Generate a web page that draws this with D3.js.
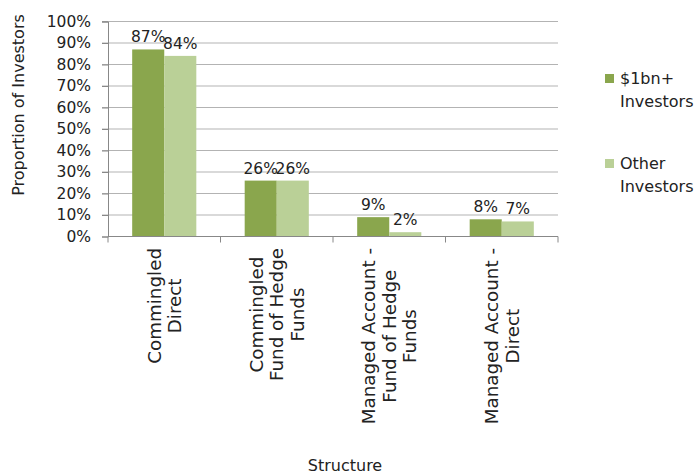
<html lang="en">
<head>
<meta charset="UTF-8">
<title>Structure</title>
<script src="https://unpkg.com/d3@7/dist/d3.min.js"></script>
<style>
  body { margin:0; padding:0; background:#fff; }
  text { font-family: "DejaVu Sans", sans-serif; font-size:16px; fill:#222; }
</style>
</head>
<body>
<svg width="695" height="475"></svg>
<script>
var categories = [
  ['Commingled', 'Direct'],
  ['Commingled', 'Fund of Hedge', 'Funds'],
  ['Managed Account -', 'Fund of Hedge', 'Funds'],
  ['Managed Account -', 'Direct']
]
var seriesNames = ['$1bn+ Investors', 'Other Investors']
var bigInvestors = [87, 26, 9, 8]
var otherInvestors = [84, 26, 2, 7]
var yTicks = [0, 10, 20, 30, 40, 50, 60, 70, 80, 90, 100]
var colors = ['#8aa64d', '#bad097']

var svg = d3.select('svg')
var plotL = 108, plotR = 558, plotT = 21.5, plotB = 236.5

var x0 = d3.scaleBand().domain(d3.range(categories.length)).range([plotL, plotR])
  .paddingInner(0.43).paddingOuter(0.215)
var x1 = d3.scaleBand().domain([0, 1]).range([0, x0.bandwidth()])
var y = d3.scaleLinear().domain([0, 100]).range([plotB, plotT])

// gridlines
svg.append('g').selectAll('line').data(yTicks.slice(1)).enter().append('line')
  .attr('x1', plotL - 6).attr('x2', plotR)
  .attr('y1', d => y(d)).attr('y2', d => y(d))
  .attr('stroke', '#b3b3b3').attr('stroke-width', 1.2)

// y axis
var yAxis = svg.append('g').attr('transform', 'translate(' + plotL + ',0)')
  .call(d3.axisLeft(y).tickValues(yTicks).tickSize(6).tickPadding(11).tickFormat(d => d + '%'))
yAxis.select('.domain').attr('stroke', '#888')
yAxis.selectAll('.tick line').attr('stroke', '#888')
yAxis.selectAll('text').style('font-size', '15.5px').style('font-family', 'DejaVu Sans').attr('fill', '#222')

// bars
var rows = categories.map((c, i) => [bigInvestors[i], otherInvestors[i]])
var groups = svg.append('g').selectAll('g').data(rows).enter().append('g')
  .attr('transform', (d, i) => 'translate(' + x0(i) + ',0)')
groups.selectAll('rect').data(d => d).enter().append('rect')
  .attr('x', (d, j) => x1(j)).attr('width', x1.bandwidth())
  .attr('y', d => y(d)).attr('height', d => plotB - y(d))
  .attr('fill', (d, j) => colors[j])
groups.selectAll('text.lbl').data(d => d).enter().append('text')
  .attr('class', 'lbl')
  .attr('x', (d, j) => x1(j) + x1.bandwidth() / 2)
  .attr('y', d => y(d) - 7)
  .attr('text-anchor', 'middle')
  .style('font-size', '15.5px')
  .text(d => d + '%')

// x axis
var xAxis = svg.append('g').attr('transform', 'translate(0,' + plotB + ')')
xAxis.append('line').attr('x1', plotL).attr('x2', plotR).attr('stroke', '#888')
xAxis.selectAll('line.tk').data(d3.range(categories.length + 1)).enter().append('line')
  .attr('class', 'tk')
  .attr('x1', i => plotL + i * x0.step()).attr('x2', i => plotL + i * x0.step())
  .attr('y1', 0).attr('y2', 6).attr('stroke', '#888')

// category labels, rotated, lines centred
categories.forEach((lines, i) => {
  var cx = x0(i) + x0.bandwidth() / 2
  var g = svg.append('g')
  var ts = lines.map(ln => g.append('text')
    .attr('text-anchor', 'middle').style('font-size', '18.3px').text(ln))
  var maxLen = d3.max(ts, t => t.node().getComputedTextLength())
  var n = lines.length
  ts.forEach((t, k) => {
    var px = cx + (k - (n - 1) / 2) * 20.5 + 6.5
    var py = 248 + maxLen / 2
    t.attr('transform', 'translate(' + px + ',' + py + ') rotate(-90)')
  })
})

// axis titles
svg.append('text').attr('text-anchor', 'middle')
  .attr('transform', 'translate(24,105) rotate(-90)')
  .style('font-size', '16px').text('Proportion of Investors')
svg.append('text').attr('text-anchor', 'middle')
  .attr('x', 345).attr('y', 471).style('font-size', '16px').text('Structure')

// legend
var legend = svg.append('g').selectAll('g').data(seriesNames).enter().append('g')
  .attr('transform', (d, i) => 'translate(605,' + (74 + i * 85) + ')')
legend.append('rect').attr('width', 9).attr('height', 9).attr('fill', (d, i) => colors[i])
legend.append('text').attr('x', 15).attr('y', 10).style('font-size', '16px')
  .text(d => d.split(' ')[0])
legend.append('text').attr('x', 15).attr('y', 33).style('font-size', '16px')
  .text(d => d.split(' ')[1])
</script>
</body>
</html>
